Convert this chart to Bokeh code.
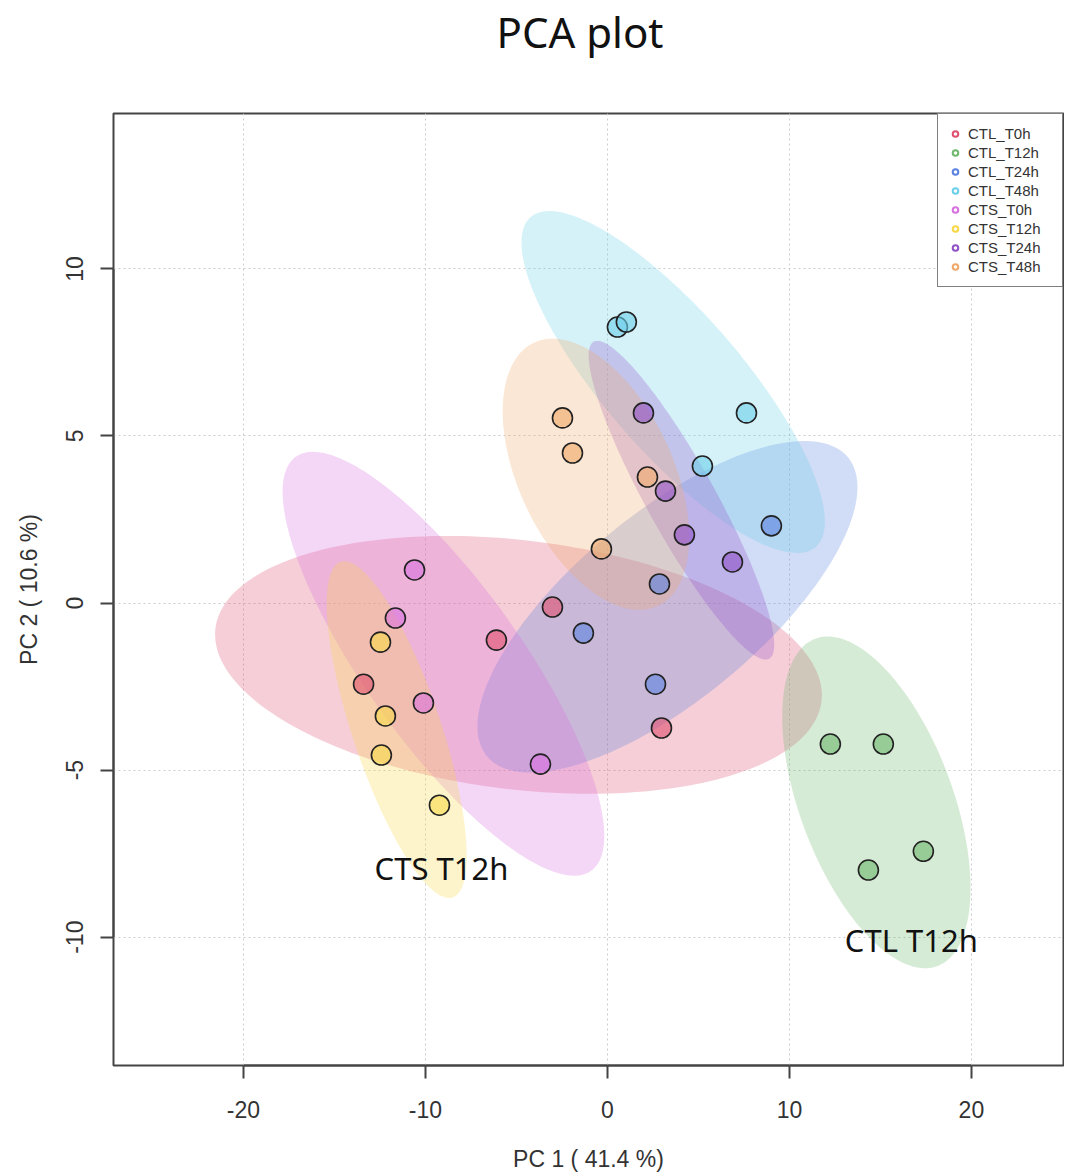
import numpy as np
from bokeh.plotting import figure
from bokeh.layouts import column
from bokeh.models import Range1d, FixedTicker, Legend, LegendItem, Label, Div
from bokeh.embed import file_html
from bokeh.resources import INLINE

# ---------------- data ----------------
groups = ["CTL_T0h", "CTL_T12h", "CTL_T24h", "CTL_T48h",
          "CTS_T0h", "CTS_T12h", "CTS_T24h", "CTS_T48h"]
colors = ["#E0506E", "#6DB86D", "#5A82E0", "#6CCFEA",
          "#D870E0", "#F8D848", "#9050C8", "#F0A868"]

pc1_CTL_T0h = [-13.4, -6.1, -3.02, 2.97]
pc2_CTL_T0h = [-2.43, -1.11, -0.12, -3.74]
pc1_CTL_T12h = [12.25, 15.16, 14.34, 17.36]
pc2_CTL_T12h = [-4.22, -4.22, -7.99, -7.43]
pc1_CTL_T24h = [-1.32, 2.86, 2.64, 9.01]
pc2_CTL_T24h = [-0.90, 0.57, -2.43, 2.31]
pc1_CTL_T48h = [0.55, 1.04, 7.64, 5.22]
pc2_CTL_T48h = [8.26, 8.41, 5.69, 4.10]
pc1_CTS_T0h = [-10.6, -11.65, -10.11, -3.68]
pc2_CTS_T0h = [0.99, -0.45, -2.99, -4.82]
pc1_CTS_T12h = [-12.47, -12.2, -12.42, -9.23]
pc2_CTS_T12h = [-1.17, -3.38, -4.55, -6.05]
pc1_CTS_T24h = [1.98, 3.19, 4.23, 6.87]
pc2_CTS_T24h = [5.69, 3.35, 2.04, 1.23]
pc1_CTS_T48h = [-2.47, -1.92, 2.20, -0.33]
pc2_CTS_T48h = [5.54, 4.49, 3.77, 1.62]

pc1 = [pc1_CTL_T0h, pc1_CTL_T12h, pc1_CTL_T24h, pc1_CTL_T48h,
       pc1_CTS_T0h, pc1_CTS_T12h, pc1_CTS_T24h, pc1_CTS_T48h]
pc2 = [pc2_CTL_T0h, pc2_CTL_T12h, pc2_CTL_T24h, pc2_CTL_T48h,
       pc2_CTS_T0h, pc2_CTS_T12h, pc2_CTS_T24h, pc2_CTS_T48h]

x_ticks = [-20, -10, 0, 10, 20]
y_ticks = [-10, -5, 0, 5, 10]

note_texts = ["CTS T12h", "CTL T12h"]
note_x = [-9.12, 16.70]
note_y = [-7.92, -10.07]

TITLE_H = 64

# ---------------- title ----------------
title = Div(text='<span style="position:relative; left:48px;">PCA plot</span>',
            width=1064, height=TITLE_H, margin=0,
            styles={"font-family": "Noto Sans", "font-size": "42px", "color": "#111111",
                    "text-align": "center", "line-height": f"{TITLE_H}px", "width": "1064px"})

# ---------------- figure ----------------
p = figure(width=1064, height=1174 - TITLE_H, output_backend="svg", toolbar_location=None,
           x_range=Range1d(-27.14, 25.06), y_range=Range1d(-13.84, 14.65),
           min_border_left=113, min_border_right=1, min_border_top=113 - TITLE_H,
           min_border_bottom=108, margin=0)
p.background_fill_color = "white"
p.border_fill_color = "white"
p.outline_line_color = "#444444"
p.outline_line_width = 2

# confidence ellipses (95%, chi-square 2 df) computed from each group's scores
t = np.sqrt(-2.0 * np.log(0.05))
theta = np.linspace(0, 2 * np.pi, 200)
for xs, ys, c in zip(pc1, pc2, colors):
    pts = np.vstack([xs, ys])
    mu = pts.mean(axis=1)
    cov = np.cov(pts)
    vals, vecs = np.linalg.eigh(cov)
    circ = np.vstack([np.cos(theta), np.sin(theta)])
    ell = vecs @ (np.sqrt(vals)[:, None] * circ) * t + mu[:, None]
    p.patch(ell[0], ell[1], fill_color=c, fill_alpha=0.28, line_color=None)

# points
for xs, ys, c in zip(pc1, pc2, colors):
    p.scatter(xs, ys, marker="circle", size=20, fill_color=c, fill_alpha=0.6,
              line_color="#222222", line_width=1.6)

# notes
for txt, nx, ny in zip(note_texts, note_x, note_y):
    p.add_layout(Label(x=nx, y=ny, text=txt, text_align="center", text_baseline="middle",
                       text_font="Noto Sans", text_font_size="31px", text_color="#111111"))

# legend (open circles); renderers hold no visible point
items = []
for g, c in zip(groups, colors):
    r = p.scatter([np.nan], [np.nan], marker="circle", size=9, fill_color=None,
                  line_color=c, line_width=2)
    items.append(LegendItem(label=g, renderers=[r]))
legend = Legend(items=items, location="top_right", margin=0, padding=10, spacing=0,
                label_height=19, glyph_height=19, glyph_width=14, label_standoff=6,
                label_width=84,
                label_text_font="Liberation Sans", label_text_font_size="15px",
                label_text_color="#333333", border_line_color="black", border_line_width=1.5,
                background_fill_color="white", background_fill_alpha=1.0)
p.add_layout(legend, "center")

# axes
for ax, ticks in ((p.xaxis[0], x_ticks), (p.yaxis[0], y_ticks)):
    ax.ticker = FixedTicker(ticks=ticks)
    ax.major_label_overrides = {tk: str(tk) for tk in ticks}
    ax.bounds = (ticks[0], ticks[-1])
    ax.minor_tick_line_color = None
    ax.major_tick_in = 0
    ax.major_tick_out = 13
    ax.major_tick_line_color = "#444444"
    ax.major_tick_line_width = 2
    ax.axis_line_color = "#444444"
    ax.axis_line_width = 2
    ax.major_label_text_font = "Liberation Sans"
    ax.major_label_text_font_size = "23px"
    ax.major_label_text_color = "#333333"
    ax.axis_label_text_font = "Liberation Sans"
    ax.axis_label_text_font_size = "23px"
    ax.axis_label_text_font_style = "normal"
    ax.axis_label_text_color = "#333333"

p.xaxis.axis_label = "PC 1 ( 41.4 %)"
p.yaxis.axis_label = "PC 2 ( 10.6 %)"
p.xaxis.major_label_standoff = 22
p.xaxis.axis_label_standoff = 25
p.yaxis.major_label_standoff = 17
p.yaxis.axis_label_standoff = 22
p.yaxis.major_label_orientation = "parallel"

p.xgrid.ticker = FixedTicker(ticks=x_ticks)
p.ygrid.ticker = FixedTicker(ticks=y_ticks)
for g in (p.xgrid[0], p.ygrid[0]):
    g.grid_line_color = "#cccccc"
    g.grid_line_dash = "2 3"
    g.grid_line_width = 1

layout = column(title, p, spacing=0, margin=0)
open("out.html", "w").write(file_html(layout, INLINE))
